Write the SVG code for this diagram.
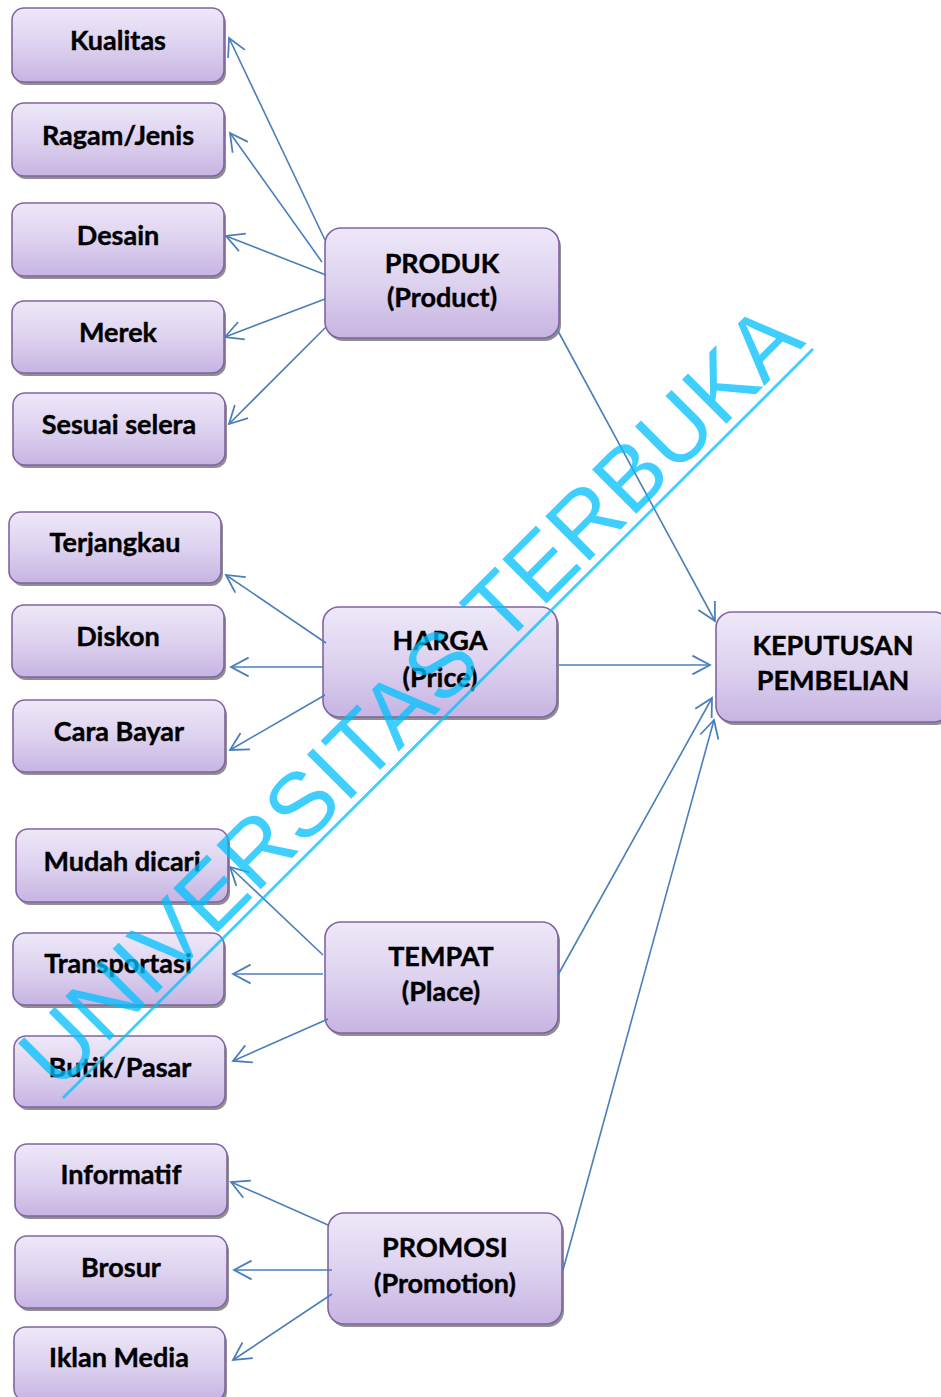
<svg xmlns="http://www.w3.org/2000/svg" width="941" height="1397" viewBox="0 0 941 1397">
<defs>
<linearGradient id="g" x1="0" y1="0" x2="0" y2="1">
<stop offset="0" stop-color="#eee8f8"/>
<stop offset="0.5" stop-color="#ddd2ef"/>
<stop offset="1" stop-color="#c7b4e2"/>
</linearGradient>
<marker id="ah" markerUnits="userSpaceOnUse" markerWidth="22" markerHeight="22" viewBox="0 0 20 20" refX="18" refY="10" orient="auto">
<path d="M2,1.5 L18,10 L2,18.5" fill="none" stroke="#4a7ebb" stroke-width="1.6"/>
</marker>
</defs>
<style>
.sh{fill:#8f8f8f}
.bx{fill:url(#g);stroke:#8064a2;stroke-width:1.6}
.t{font-family:Lato,"Liberation Sans",sans-serif;font-weight:bold;font-size:27px;fill:#000;stroke:#000;stroke-width:0.4;text-anchor:middle}
.c{stroke:#4a7ebb;stroke-width:1.6;fill:none;marker-end:url(#ah)}
.wm{font-family:"Liberation Sans",Arial,sans-serif;font-size:91px;fill:#00c0ff;opacity:0.75}
</style>
<rect width="941" height="1397" fill="#fff"/>
<g id="n-kualitas"><rect class="sh" x="14" y="11" width="212" height="74" rx="12"/><rect class="bx" x="12" y="8" width="212" height="74" rx="12"/><text class="t" x="118" y="50">Kualitas</text></g>
<g id="n-ragam"><rect class="sh" x="14" y="106" width="212" height="73" rx="12"/><rect class="bx" x="12" y="103" width="212" height="73" rx="12"/><text class="t" x="118" y="145">Ragam/Jenis</text></g>
<g id="n-desain"><rect class="sh" x="14" y="206" width="212" height="73" rx="12"/><rect class="bx" x="12" y="203" width="212" height="73" rx="12"/><text class="t" x="118" y="245">Desain</text></g>
<g id="n-merek"><rect class="sh" x="14" y="304" width="212" height="72" rx="12"/><rect class="bx" x="12" y="301" width="212" height="72" rx="12"/><text class="t" x="118" y="342">Merek</text></g>
<g id="n-sesuai"><rect class="sh" x="15" y="396" width="212" height="72" rx="12"/><rect class="bx" x="13" y="393" width="212" height="72" rx="12"/><text class="t" x="119" y="434">Sesuai selera</text></g>
<g id="n-terjangkau"><rect class="sh" x="11" y="515" width="212" height="71" rx="12"/><rect class="bx" x="9" y="512" width="212" height="71" rx="12"/><text class="t" x="115" y="552">Terjangkau</text></g>
<g id="n-diskon"><rect class="sh" x="14" y="608" width="212" height="72" rx="12"/><rect class="bx" x="12" y="605" width="212" height="72" rx="12"/><text class="t" x="118" y="646">Diskon</text></g>
<g id="n-carabayar"><rect class="sh" x="15" y="703" width="212" height="72" rx="12"/><rect class="bx" x="13" y="700" width="212" height="72" rx="12"/><text class="t" x="119" y="741">Cara Bayar</text></g>
<g id="n-mudah"><rect class="sh" x="18" y="832" width="212" height="73" rx="12"/><rect class="bx" x="16" y="829" width="212" height="73" rx="12"/><text class="t" x="122" y="871">Mudah dicari</text></g>
<g id="n-transportasi"><rect class="sh" x="15" y="936" width="211" height="72" rx="12"/><rect class="bx" x="13" y="933" width="211" height="72" rx="12"/><text class="t" x="118" y="973">Transportasi</text></g>
<g id="n-butik"><rect class="sh" x="16" y="1039" width="211" height="71" rx="12"/><rect class="bx" x="14" y="1036" width="211" height="71" rx="12"/><text class="t" x="120" y="1077">Butik/Pasar</text></g>
<g id="n-informatif"><rect class="sh" x="17" y="1147" width="212" height="72" rx="12"/><rect class="bx" x="15" y="1144" width="212" height="72" rx="12"/><text class="t" x="121" y="1184">Informatif</text></g>
<g id="n-brosur"><rect class="sh" x="17" y="1239" width="212" height="72" rx="12"/><rect class="bx" x="15" y="1236" width="212" height="72" rx="12"/><text class="t" x="121" y="1277">Brosur</text></g>
<g id="n-iklan"><rect class="sh" x="16" y="1330" width="211" height="74" rx="12"/><rect class="bx" x="14" y="1327" width="211" height="74" rx="12"/><text class="t" x="119" y="1367">Iklan Media</text></g>
<g id="n-produk"><rect class="sh" x="327" y="231" width="234" height="110" rx="16"/><rect class="bx" x="325" y="228" width="234" height="110" rx="16"/><text class="t" x="442" y="273">PRODUK</text><text class="t" x="442" y="307">(Product)</text></g>
<g id="n-harga"><rect class="sh" x="325" y="610" width="234" height="110" rx="16"/><rect class="bx" x="323" y="607" width="234" height="110" rx="16"/><text class="t" x="440" y="650">HARGA</text><text class="t" x="440" y="687">(Price)</text></g>
<g id="n-tempat"><rect class="sh" x="327" y="925" width="233" height="111" rx="16"/><rect class="bx" x="325" y="922" width="233" height="111" rx="16"/><text class="t" x="441" y="966">TEMPAT</text><text class="t" x="441" y="1001">(Place)</text></g>
<g id="n-promosi"><rect class="sh" x="330" y="1216" width="234" height="111" rx="16"/><rect class="bx" x="328" y="1213" width="234" height="111" rx="16"/><text class="t" x="445" y="1257">PROMOSI</text><text class="t" x="445" y="1293">(Promotion)</text></g>
<g id="n-keputusan"><rect class="sh" x="718" y="615" width="234" height="110" rx="16"/><rect class="bx" x="716" y="612" width="234" height="110" rx="16"/><text class="t" x="833" y="655">KEPUTUSAN</text><text class="t" x="833" y="690">PEMBELIAN</text></g>
<g id="connectors">
<line class="c" x1="325" y1="240" x2="229" y2="38"/>
<line class="c" x1="322" y1="262" x2="230" y2="133"/>
<line class="c" x1="326" y1="275" x2="226" y2="236"/>
<line class="c" x1="325" y1="299" x2="225" y2="337"/>
<line class="c" x1="326" y1="327" x2="229" y2="424"/>
<line class="c" x1="558" y1="331" x2="715" y2="621"/>
<line class="c" x1="326" y1="643" x2="226" y2="575"/>
<line class="c" x1="323" y1="667" x2="231" y2="667"/>
<line class="c" x1="325" y1="695" x2="230" y2="750"/>
<line class="c" x1="559" y1="665" x2="710" y2="665"/>
<line class="c" x1="323" y1="955" x2="230" y2="867"/>
<line class="c" x1="323" y1="974" x2="233" y2="974"/>
<line class="c" x1="328" y1="1019" x2="233" y2="1061"/>
<line class="c" x1="558" y1="975" x2="712" y2="698"/>
<line class="c" x1="328" y1="1225" x2="231" y2="1182"/>
<line class="c" x1="332" y1="1270" x2="234" y2="1270"/>
<line class="c" x1="332" y1="1294" x2="233" y2="1360"/>
<line class="c" x1="563" y1="1270" x2="714" y2="720"/>
</g>
<g id="watermark">
<text class="wm" x="57.5" y="1092.5" transform="rotate(-45 57.5 1092.5)" textLength="1060" lengthAdjust="spacing">UNIVERSITAS TERBUKA</text>
<line x1="63" y1="1098" x2="813" y2="349" stroke="#00c0ff" stroke-width="2.8" opacity="0.75"/>
</g>
</svg>
